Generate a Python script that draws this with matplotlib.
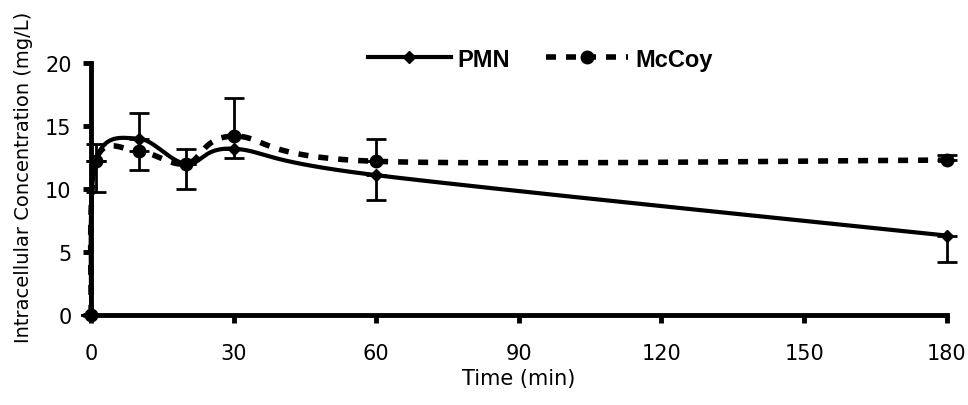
import numpy as np
import matplotlib.pyplot as plt

# data
time_min = [0, 1, 10, 20, 30, 60, 180]
pmn = [0, 12.2, 14.0, 12.0, 13.2, 11.1, 6.3]
mccoy = [0, 12.2, 13.0, 12.0, 14.2, 12.2, 12.3]
# one-sided error bars (lower, upper)
pmn_err_lo = [0, 0, 0, 2.0, 0.7, 2.0, 2.1]
pmn_err_hi = [0, 1.4, 2.0, 0, 0, 0, 0]
mccoy_err_lo = [0, 2.4, 1.5, 0, 0, 0, 0]
mccoy_err_hi = [0, 0, 0, 1.2, 3.0, 1.8, 0.4]

xticks = [0, 30, 60, 90, 120, 150, 180]
yticks = [0, 5, 10, 15, 20]


def smooth(x, y, sx, sy, n=40):
    # Excel-like smoothed line (Bezier, tension 1/6) computed in scaled coords
    px = np.array(x, float) / sx
    py = np.array(y, float) / sy
    P = np.column_stack([px, py])
    out = []
    for i in range(len(P) - 1):
        p0 = P[i - 1] if i > 0 else P[i]
        p1, p2 = P[i], P[i + 1]
        p3 = P[i + 2] if i + 2 < len(P) else P[i + 1]
        c1 = p1 + (p2 - p0) / 6
        c2 = p2 - (p3 - p1) / 6
        t = np.linspace(0, 1, n)[:, None]
        seg = (1 - t) ** 3 * p1 + 3 * (1 - t) ** 2 * t * c1 + 3 * (1 - t) * t ** 2 * c2 + t ** 3 * p2
        out.append(seg if i == 0 else seg[1:])
    out = np.vstack(out)
    return out[:, 0] * sx, out[:, 1] * sy


fig = plt.figure(figsize=(9.68, 4.06), dpi=100)
ax = fig.add_axes([0.094, 0.222, 0.884, 0.62])

sx, sy = 180 / 8.56, 20 / 2.52
xs, ys = smooth(time_min, pmn, sx, sy)
ax.plot(xs, ys, color='black', lw=3, solid_capstyle='butt', zorder=3)
xs, ys = smooth(time_min, mccoy, sx, sy)
ax.plot(xs, ys, color='black', lw=4, linestyle=(0, (1.8, 1.8)), zorder=2)

for yv, lo, hi, mk, ms in [(pmn, pmn_err_lo, pmn_err_hi, 'D', 6),
                           (mccoy, mccoy_err_lo, mccoy_err_hi, 'o', 9)]:
    _, caps, bars = ax.errorbar(time_min, yv, yerr=[lo, hi], fmt=mk, color='black',
                                ms=ms, capsize=7, elinewidth=2, capthick=2, zorder=4)
    for a in list(caps) + list(bars):
        a.set_clip_on(False)
for ln in ax.lines:
    ln.set_clip_on(False)

# legend handles
h1, = ax.plot([], [], color='black', lw=3, marker='D', ms=6, label='PMN')
h2, = ax.plot([], [], color='black', lw=4, linestyle=(0, (1.8, 1.8)), marker='o', ms=9, label='McCoy')
fig.legend([h1, h2], ['PMN', 'McCoy'], loc='center left', bbox_to_anchor=(0.368, 0.852), ncol=2,
           frameon=False, handlelength=3.5, columnspacing=1.5, handletextpad=0.3, borderpad=0,
           prop={'family': 'Liberation Sans', 'weight': 'bold', 'size': 17})

ax.set_xlim(0, 180)
ax.set_ylim(0, 20)
ax.set_xticks(xticks)
ax.set_yticks(yticks)
for s in ['top', 'right']:
    ax.spines[s].set_visible(False)
for s in ['left', 'bottom']:
    ax.spines[s].set_linewidth(3.5)
ax.tick_params(width=3.5, length=6, labelsize=15, direction='out')
ax.tick_params(axis='x', pad=14)
ax.tick_params(axis='y', pad=8)
ax.set_xlabel('Time (min)', fontsize=15, labelpad=4)
ax.set_ylabel('Intracellular Concentration (mg/L)', fontsize=14)
ax.yaxis.set_label_coords(-0.068, 0.55)

fig.savefig('out.png', dpi=100)
